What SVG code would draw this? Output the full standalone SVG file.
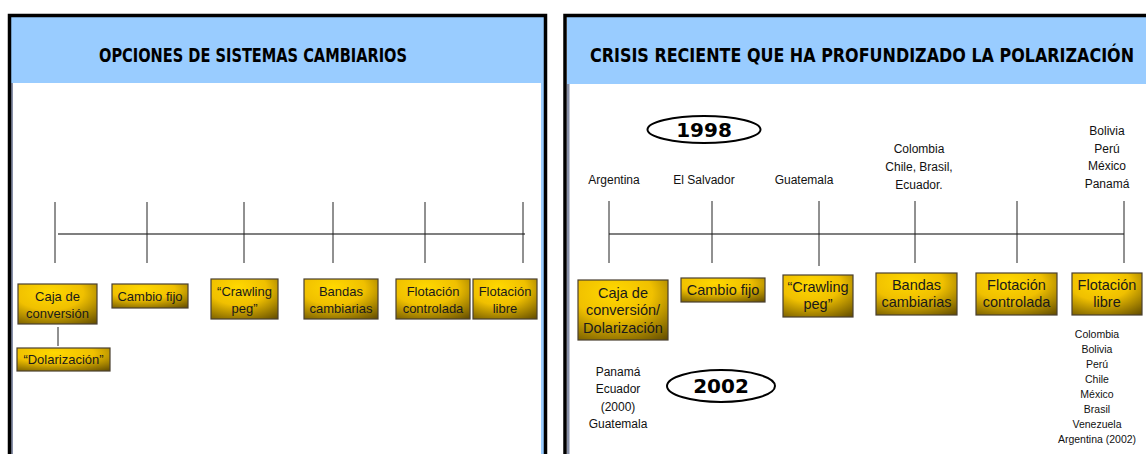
<svg xmlns="http://www.w3.org/2000/svg" width="1146" height="454" viewBox="0 0 1146 454">
<defs>
<radialGradient id="gold" cx="0.4" cy="0.25" r="0.95" fx="0.4" fy="0.2">
<stop offset="0" stop-color="#FFD800"/>
<stop offset="0.45" stop-color="#F0C000"/>
<stop offset="1" stop-color="#624C00"/>
</radialGradient>
<style>
.box{fill:url(#gold);stroke:#4a4030;stroke-width:1.2}
.bt{font-family:"Liberation Sans",Arial,sans-serif;font-size:13px;fill:#1a1a1a;text-anchor:middle}
.bt2{font-family:"Liberation Sans",Arial,sans-serif;font-size:14.5px;fill:#1a1a1a;text-anchor:middle}
.lbl{font-family:"Liberation Sans",Arial,sans-serif;font-size:12px;fill:#111;text-anchor:middle}
.sm{font-family:"Liberation Sans",Arial,sans-serif;font-size:10.5px;fill:#111;text-anchor:middle}
.title{font-family:"DejaVu Sans Condensed","DejaVu Sans",sans-serif;font-weight:bold;font-size:17px;fill:#000;text-anchor:middle}
.yr{font-family:"DejaVu Sans",sans-serif;font-weight:bold;font-size:20px;fill:#000;text-anchor:middle}
.tl{stroke:#555;stroke-width:1.3;fill:none}
.tk{stroke:#222;stroke-width:1;fill:none}
.ell{fill:#fff;stroke:#000;stroke-width:2}
</style>
</defs>
<rect width="1146" height="454" fill="#fff"/>
<g id="panel-left">
<rect x="11" y="17" width="533" height="66" fill="#99CCFF"/>
<rect x="541" y="83" width="3" height="371" fill="#99CCFF"/>
<rect x="11" y="83" width="2" height="371" fill="#8890a8"/>
<path d="M9.5 454 V15.5 H545.5 V454" fill="none" stroke="#000" stroke-width="3.5"/>
<text class="title" transform="translate(253,62) scale(1,1.15)" x="0" y="0" textLength="308" lengthAdjust="spacingAndGlyphs">OPCIONES DE SISTEMAS CAMBIARIOS</text>
</g>
<g id="panel-right">
<rect x="567" y="17" width="579" height="67" fill="#99CCFF"/>
<rect x="567" y="84" width="2.5" height="370" fill="#8890a8"/>
<path d="M565 454 V15.5 H1146" fill="none" stroke="#000" stroke-width="3.5"/>
<text class="title" transform="translate(862,62) scale(1,1.15)" x="0" y="0" textLength="544" lengthAdjust="spacingAndGlyphs">CRISIS RECIENTE QUE HA PROFUNDIZADO LA POLARIZACIÓN</text>
</g>
<g id="connectors">
<line class="tl" x1="58" y1="234" x2="525" y2="234"/>
<line class="tk" x1="55" y1="202" x2="55" y2="263"/>
<line class="tk" x1="147" y1="202" x2="147" y2="263"/>
<line class="tk" x1="244" y1="202" x2="244" y2="263"/>
<line class="tk" x1="333" y1="202" x2="333" y2="263"/>
<line class="tk" x1="425" y1="202" x2="425" y2="263"/>
<line class="tk" x1="523" y1="202" x2="523" y2="263"/>
<line class="tk" x1="58" y1="327" x2="58" y2="346"/>
<line class="tl" x1="609" y1="234" x2="1124" y2="234"/>
<line class="tk" x1="609" y1="201" x2="609" y2="263"/>
<line class="tk" x1="712" y1="201" x2="712" y2="263"/>
<line class="tk" x1="819" y1="201" x2="819" y2="266"/>
<line class="tk" x1="915" y1="201" x2="915" y2="263"/>
<line class="tk" x1="1017" y1="201" x2="1017" y2="263"/>
<line class="tk" x1="1124" y1="201" x2="1124" y2="263"/>
</g>
<g id="l-caja"><rect class="box" x="18" y="284" width="79" height="40"/><text class="bt" x="57.5" y="301">Caja de</text><text class="bt" x="57.5" y="318">conversión</text></g>
<g id="l-dolar"><rect class="box" x="17" y="348" width="93" height="23"/><text class="bt" x="63.5" y="364">“Dolarización”</text></g>
<g id="l-fijo"><rect class="box" x="112" y="284" width="76" height="24"/><text class="bt" x="150" y="301">Cambio fijo</text></g>
<g id="l-crawl"><rect class="box" x="211" y="279" width="67" height="40"/><text class="bt" x="244.5" y="296">“Crawling</text><text class="bt" x="244.5" y="313">peg”</text></g>
<g id="l-bandas"><rect class="box" x="304" y="279" width="74" height="40"/><text class="bt" x="341" y="296">Bandas</text><text class="bt" x="341" y="313">cambiarias</text></g>
<g id="l-fcont"><rect class="box" x="396" y="279" width="74" height="40"/><text class="bt" x="433" y="296">Flotación</text><text class="bt" x="433" y="313">controlada</text></g>
<g id="l-flib"><rect class="box" x="473" y="279" width="64" height="40"/><text class="bt" x="505" y="296">Flotación</text><text class="bt" x="505" y="313">libre</text></g>
<g id="y1998"><ellipse class="ell" cx="704" cy="129.5" rx="56.5" ry="13.5"/><text class="yr" x="704" y="137">1998</text></g>
<g id="y2002"><ellipse class="ell" cx="721" cy="386" rx="54" ry="16"/><text class="yr" x="721" y="393">2002</text></g>
<g id="top-labels">
<text class="lbl" x="614" y="184">Argentina</text>
<text class="lbl" x="704" y="184">El Salvador</text>
<text class="lbl" x="804" y="184">Guatemala</text>
<text class="lbl" x="919" y="153">Colombia</text>
<text class="lbl" x="919" y="171">Chile, Brasil,</text>
<text class="lbl" x="919" y="189">Ecuador.</text>
<text class="lbl" x="1107" y="135">Bolivia</text>
<text class="lbl" x="1107" y="153">Perú</text>
<text class="lbl" x="1107" y="170">México</text>
<text class="lbl" x="1107" y="188">Panamá</text>
</g>
<g id="r-caja"><rect class="box" x="578" y="280" width="90" height="60"/><text class="bt2" x="623" y="298">Caja de</text><text class="bt2" x="623" y="315">conversión/</text><text class="bt2" x="623" y="333">Dolarización</text></g>
<g id="r-fijo"><rect class="box" x="681" y="278" width="84" height="24"/><text class="bt2" x="723" y="295">Cambio fijo</text></g>
<g id="r-crawl"><rect class="box" x="783" y="275" width="70" height="42"/><text class="bt2" x="818" y="292">“Crawling</text><text class="bt2" x="818" y="309">peg”</text></g>
<g id="r-bandas"><rect class="box" x="876" y="273" width="81" height="42"/><text class="bt2" x="916.5" y="290">Bandas</text><text class="bt2" x="916.5" y="307">cambiarias</text></g>
<g id="r-fcont"><rect class="box" x="976" y="273" width="81" height="42"/><text class="bt2" x="1016.5" y="290">Flotación</text><text class="bt2" x="1016.5" y="307">controlada</text></g>
<g id="r-flib"><rect class="box" x="1072" y="273" width="70" height="42"/><text class="bt2" x="1107" y="290">Flotación</text><text class="bt2" x="1107" y="307">libre</text></g>
<g id="bottom-labels">
<text class="lbl" x="618" y="376">Panamá</text>
<text class="lbl" x="618" y="393">Ecuador</text>
<text class="lbl" x="618" y="411">(2000)</text>
<text class="lbl" x="618" y="428">Guatemala</text>
<text class="sm" x="1097" y="338">Colombia</text>
<text class="sm" x="1097" y="353">Bolivia</text>
<text class="sm" x="1097" y="368">Perú</text>
<text class="sm" x="1097" y="383">Chile</text>
<text class="sm" x="1097" y="398">México</text>
<text class="sm" x="1097" y="413">Brasil</text>
<text class="sm" x="1097" y="428">Venezuela</text>
<text class="sm" x="1097" y="443">Argentina (2002)</text>
</g>
</svg>
